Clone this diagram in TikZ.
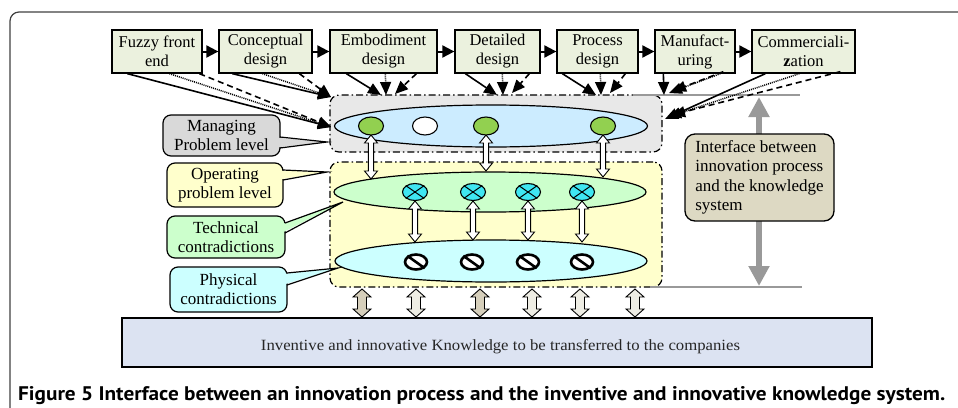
\documentclass[tikz,border=0pt]{standalone}
\usepackage{fontspec}
\setmainfont{Liberation Serif}
\newfontfamily\capfont{PT Sans}
\usetikzlibrary{shapes.geometric,arrows.meta,calc}
\definecolor{procfill}{HTML}{EBF1DE}
\definecolor{mgrfill}{HTML}{E8E8E8}
\definecolor{mgrell}{HTML}{CCECFF}
\definecolor{gcirc}{HTML}{92D050}
\definecolor{opfill}{HTML}{FFFFCC}
\definecolor{techell}{HTML}{CCFFCC}
\definecolor{xcirc}{HTML}{3FE6F2}
\definecolor{physell}{HTML}{CCFFFF}
\definecolor{cmf}{HTML}{D9D9D9}
\definecolor{cof}{HTML}{FFFFCC}
\definecolor{ctf}{HTML}{CCFFCC}
\definecolor{cpf}{HTML}{CCFFFF}
\definecolor{intf}{HTML}{DDD9C3}
\definecolor{kbf}{HTML}{DCE3F2}
\definecolor{grayarr}{HTML}{999999}
\definecolor{tandark}{HTML}{D6CFBB}
\definecolor{tanlight}{HTML}{EEEDE4}
\newcommand\dblarr[7]{%
  \filldraw[fill=#4,draw=black,line width=0.9pt]
   ({#1-#5},{#2+#7}) -- ({#1-#6},{#2+#7}) -- ({#1},{#2}) -- ({#1+#6},{#2+#7}) -- ({#1+#5},{#2+#7})
   -- ({#1+#5},{#3-#7}) -- ({#1+#6},{#3-#7}) -- ({#1},{#3}) -- ({#1-#6},{#3-#7}) -- ({#1-#5},{#3-#7}) -- cycle;}
\tikzset{
 procbox/.style={draw=black,line width=1.3pt,fill=procfill,minimum height=43pt,inner sep=1pt,align=center,font=\fontsize{16.5}{19}\selectfont},
 procarr/.style={line width=2pt,-{Triangle[length=12pt,width=12pt]}},
 feedsol/.style={line width=1.6pt,-{Triangle[length=13pt,width=11pt]}},
 feeddot/.style={line width=1.5pt,dash pattern=on 1pt off 1pt,-{Triangle[length=13pt,width=11pt]}},
 feeddash/.style={line width=1.6pt,dash pattern=on 6pt off 4pt,-{Triangle[length=13pt,width=11pt]}},
 region/.style={draw=black,line width=1.2pt,rounded corners=9pt,dash pattern=on 7pt off 3pt on 1.5pt off 3pt},
 lev/.style={ellipse,draw=black,line width=1.2pt,inner sep=0},
 dotnode/.style={ellipse,draw=black,line width=1.1pt,inner sep=0,minimum width=25pt,minimum height=18pt},
 callbox/.style={draw=black,line width=1.2pt,rounded corners=8pt,align=center,inner sep=1pt,font=\fontsize{17}{19}\selectfont},
 callline/.style={draw=black,line width=1.2pt},
}
\begin{document}
\begin{tikzpicture}[x=1pt,y=-1pt]
\useasboundingbox (0,0) rectangle (958,407);
% outer frame
\draw[line width=1.2pt,draw=black!75,rounded corners=9pt] (10,440) -- (10,12) -- (990,12);
% process boxes
\node[procbox,minimum width=90pt]  (p1) at (157,51.5) {Fuzzy front\\end};
\node[procbox,minimum width=93pt]  (p2) at (265.5,51.5) {Conceptual\\design};
\node[procbox,minimum width=107pt] (p3) at (383.5,51.5) {Embodiment\\design};
\node[procbox,minimum width=85pt]  (p4) at (497.5,51.5) {Detailed\\design};
\node[procbox,minimum width=81pt]  (p5) at (597.5,51.5) {Process\\design};
\node[procbox,minimum width=80pt]  (p6) at (695,51.5) {Manufact-\\uring};
\node[procbox,minimum width=103pt] (p7) at (803.5,51.5) {Commerciali-\\\textbf{z}ation};
\foreach \a/\b in {p1/p2,p2/p3,p3/p4,p4/p5,p5/p6,p6/p7}
  \draw[procarr] (\a.east) -- (\b.west);
% regions
\node[region,fill=mgrfill,minimum width=332pt,minimum height=57pt] (mgr) at (496,123.5) {};
\node[region,fill=opfill,minimum width=332pt,minimum height=125pt] (opr) at (496,224.5) {};
% gray interface lines
\coordinate (gtL) at (633,95); \coordinate (gtR) at (800,95);
\coordinate (gbL) at (650,287); \coordinate (gbR) at (802,287);
\draw[draw=grayarr,line width=1.8pt] (gtL) -- (gtR);
\draw[draw=grayarr,line width=1.8pt] (gbL) -- (gbR);
% level ellipses
\node[lev,fill=mgrell,minimum width=313pt,minimum height=42pt] (lm) at (491,126) {};
\node[lev,fill=techell,minimum width=312pt,minimum height=40pt] (lt) at (490,192) {};
\node[lev,fill=physell,minimum width=312pt,minimum height=42pt] (lp) at (491,261) {};
% white double arrows
\dblarr{371}{135}{179}{white}{2.6}{6.5}{8}
\dblarr{486}{135}{171}{white}{2.6}{6.5}{8}
\dblarr{603}{135}{177}{white}{2.6}{6.5}{8}
\dblarr{415}{201}{242}{white}{2.6}{6.5}{8}
\dblarr{473}{201}{240}{white}{2.6}{6.5}{8}
\dblarr{528}{201}{240}{white}{2.6}{6.5}{8}
\dblarr{582}{201}{242}{white}{2.6}{6.5}{8}
% managing circles
\node[dotnode,fill=gcirc] (g1) at (371,126) {};
\node[dotnode,fill=white] (w1) at (425,126) {};
\node[dotnode,fill=gcirc] (g2) at (486,126) {};
\node[dotnode,fill=gcirc] (g3) at (603,126) {};
% technical contradiction symbols
\foreach \n/\x in {x1/415,x2/473,x3/528,x4/582}{
  \node[dotnode,fill=xcirc,minimum height=17pt] (\n) at (\x,192) {};
  \draw[line width=1pt] (\n.north west) -- (\n.south east);
  \draw[line width=1pt] (\n.north east) -- (\n.south west);
}
% physical contradiction symbols
\foreach \n/\x in {n1/416,n2/472,n3/528,n4/582}{
  \node[dotnode,fill=white,line width=2.6pt,minimum width=22pt,minimum height=15pt] (\n) at (\x,262) {};
  \draw[line width=2.6pt] (\n.north west) -- (\n.south east);
}
% feed arrows from process to managing level
\coordinate (tA) at (331,127);
\coordinate (tB) at (331,97);
\draw[feedsol]  (p1.south west) ++(16,0) -- (tA);
\draw[feeddot]  (p1.south west) ++(58,0) -- (tA);
\draw[feeddash] (p1.south west) ++(88,0) -- (tA);
\draw[feedsol]  (p2.south west) ++(14,0) -- (tB);
\draw[feeddot]  (p2.south west) ++(44,0) -- (tB);
\draw[feeddash] (p2.south west) ++(81,0) -- (tB);
\coordinate (t3a) at (381,95); \coordinate (t3b) at (386,95); \coordinate (t3c) at (395,94);
\draw[feedsol]  (p3.south west) ++(17,0) -- (t3a);
\draw[feeddot]  (p3.south west) ++(56,0) -- (t3b);
\draw[feeddash] (p3.south west) ++(87,0) -- (t3c);
\coordinate (t4a) at (497,95); \coordinate (t4b) at (503,95); \coordinate (t4c) at (512,93);
\draw[feedsol]  (p4.south west) ++(11,0) -- (t4a);
\draw[feeddot]  (p4.south west) ++(48,0) -- (t4b);
\draw[feeddash] (p4.south west) ++(75,0) -- (t4c);
\coordinate (t5a) at (596,95); \coordinate (t5b) at (601,95); \coordinate (t5c) at (610,93);
\draw[feedsol]  (p5.south west) ++(6,0) -- (t5a);
\draw[feeddot]  (p5.south west) ++(44,0) -- (t5b);
\draw[feeddash] (p5.south west) ++(69,0) -- (t5c);
\coordinate (t6a) at (664,95); \coordinate (t6b) at (669,93); \coordinate (t6c) at (673,91);
\draw[feedsol]  (p6.south west) ++(9,0) -- (t6a);
\draw[feeddot]  (p6.south west) ++(66,0) -- (t6b);
\draw[feeddash] (p6.south west) ++(69,-2) -- (t6c);
\coordinate (t7a) at (665,119); \coordinate (t7b) at (668,117); \coordinate (t7c) at (672,115);
\draw[feedsol]  (p7.south west) ++(14,0) -- (t7a);
\draw[feeddot]  (p7.south west) ++(48,0) -- (t7b);
\draw[feeddash] (p7.south west) ++(89,-2) -- (t7c);
% callouts
\node[callbox,fill=cmf,minimum width=117pt,minimum height=41pt] (cm) at (221.5,135.5) {Managing\\Problem level};
\coordinate (cmA) at (280,137); \coordinate (cmB) at (280,148); \coordinate (cmT) at (327,142);
\fill[cmf] ($(cmA)+(-2,0.8)$) -- (cmT) -- ($(cmB)+(-2,-0.8)$) -- cycle;
\draw[callline] (cmA) -- (cmT) -- (cmB);
\node[callbox,fill=cof,minimum width=116pt,minimum height=44pt] (co) at (225,185) {Operating\\problem level};
\coordinate (coA) at (283,170); \coordinate (coB) at (283,180); \coordinate (coT) at (327,172);
\fill[cof] ($(coA)+(-2,0.8)$) -- (coT) -- ($(coB)+(-2,-0.8)$) -- cycle;
\draw[callline] (coA) -- (coT) -- (coB);
\node[callbox,fill=ctf,minimum width=118pt,minimum height=42pt] (ct) at (226,237) {Technical\\contradictions};
\coordinate (ctA) at (285,223); \coordinate (ctB) at (285,233); \coordinate (ctT) at (343,202);
\fill[ctf] ($(ctA)+(-2,0.8)$) -- (ctT) -- ($(ctB)+(-2,-0.8)$) -- cycle;
\draw[callline] (ctA) -- (ctT) -- (ctB);
\node[callbox,fill=cpf,minimum width=117pt,minimum height=45pt] (cp) at (228.5,289.5) {Physical\\contradictions};
\coordinate (cpA) at (287,273); \coordinate (cpB) at (287,285); \coordinate (cpT) at (338,268);
\fill[cpf] ($(cpA)+(-2,0.8)$) -- (cpT) -- ($(cpB)+(-2,-0.8)$) -- cycle;
\draw[callline] (cpA) -- (cpT) -- (cpB);
% interface arrow and box
\coordinate (iT) at (759,97); \coordinate (iB) at (759,286);
\draw[draw=grayarr,line width=6pt,{Triangle[length=20pt,width=20pt]}-{Triangle[length=20pt,width=20pt]}] (iT) -- (iB);
\node[draw=black,line width=1.3pt,fill=intf,rounded corners=10pt,minimum width=149pt,minimum height=87pt,align=left,font=\fontsize{17}{19.5}\selectfont] (ifc) at (759.5,177.5) {Interface between\\innovation process\\and the knowledge\\system};
% transfer arrows
\dblarr{362}{289}{317}{tandark}{4.5}{9}{8}
\dblarr{416}{289}{317}{tanlight}{4.5}{9}{8}
\dblarr{480}{289}{317}{tandark}{4.5}{9}{8}
\dblarr{532}{289}{317}{tanlight}{4.5}{9}{8}
\dblarr{580}{289}{317}{tanlight}{4.5}{9}{8}
\dblarr{635}{289}{317}{tanlight}{4.5}{9}{8}
% knowledge box
\node[draw=black,line width=1.3pt,fill=kbf,minimum width=750pt,minimum height=49pt] (kb) at (497,342.5) {};
\node[anchor=base,inner sep=0,text=black!85] (kbt) at (500.5,350) {\resizebox{479pt}{11pt}{Inventive and innovative Knowledge to be transferred to the companies}};
% caption
\node[anchor=base west,inner sep=0] (cap) at (18,400) {\resizebox{927pt}{14pt}{\capfont\bfseries Figure 5 Interface between an innovation process and the inventive and innovative knowledge system.}};
\end{tikzpicture}
\end{document}
